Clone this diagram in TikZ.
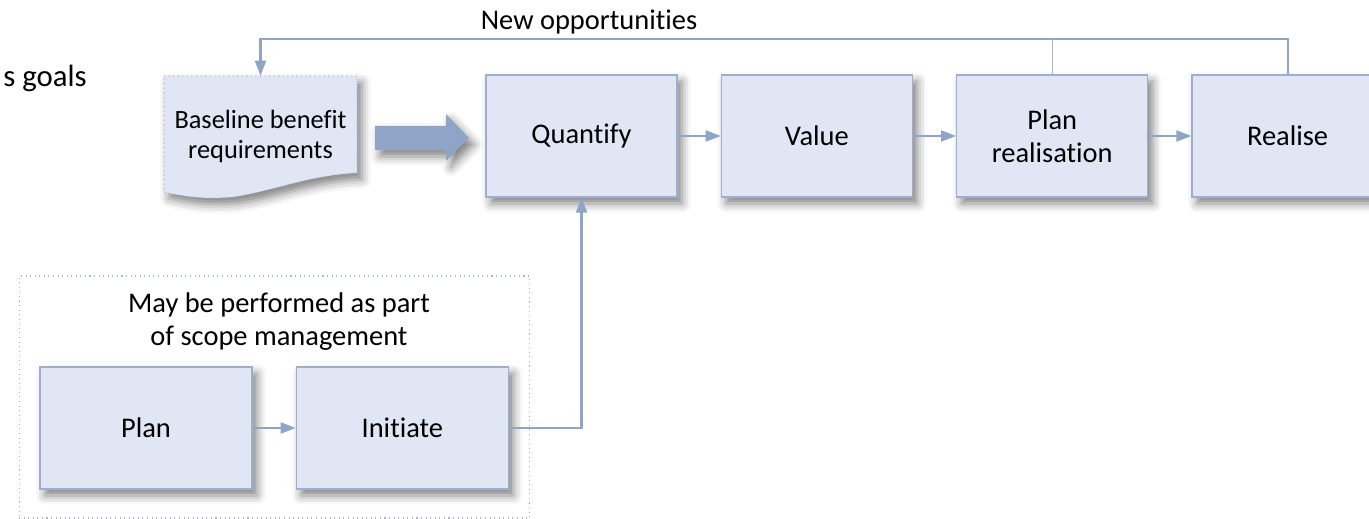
\documentclass[tikz,border=0pt]{standalone}
\usepackage{fontspec}
\setmainfont{Carlito}[Ligatures=NoCommon]
\usetikzlibrary{positioning,arrows.meta,shadows.blur}
\definecolor{boxfill}{RGB}{224,230,243}
\definecolor{boxline}{RGB}{158,174,206}
\definecolor{flowblue}{RGB}{143,164,198}
\definecolor{dotline}{RGB}{168,180,205}
\newcommand{\boxfont}{\fontsize{16.2}{18.7}\selectfont}
\newcommand{\basefont}{\fontsize{15}{17.6}\selectfont}
\tikzset{
  softshadow/.style={blur shadow={shadow xshift=0.1cm, shadow yshift=-0.13cm, shadow blur radius=0.18cm, shadow opacity=50}},
  stage/.style={draw=boxline, line width=0.8pt, fill=boxfill, minimum width=3.82cm, minimum height=2.44cm, align=center, font=\boxfont, softshadow},
  flow/.style={flowblue, line width=1.2pt, -{Triangle[length=0.3cm,width=0.22cm]}},
}

\begin{document}
\begin{tikzpicture}[x=0.02cm,y=-0.02cm]
  \useasboundingbox (0,0) rectangle (1369,519);

  % scope management group
  \node[draw=dotline, dotted, line width=0.6pt, minimum width=10.22cm, minimum height=4.84cm] (scope) at (274.5,397) {};
  \node[font=\boxfont, align=center] (note) at (279,321.5) {May be performed as part\\of scope management};

  % baseline document
  \filldraw[fill=boxfill, draw=dotline, dotted, line width=0.6pt, softshadow]
    (164,76) -- (357,76) -- (357,173) .. controls (310,175) and (270,192) .. (233,197)
    .. controls (210,199) and (190,198) .. (164,192) -- cycle;
  \node[minimum width=3.86cm, minimum height=2.42cm, align=center, font=\basefont] (base) at (260.5,136.5) {Baseline benefit\\requirements};

  % fat arrow
  \fill[flowblue, softshadow] (375,126) -- (446,126) -- (446,114) -- (469,138) -- (446,161) -- (446,150) -- (375,150) -- cycle;

  % main stages
  \node[stage] (quant) at (581.5,136) {Quantify};
  \node[stage, right=0.86cm of quant] (value) {Value};
  \node[stage, right=0.86cm of value] (planreal) {Plan\\realisation};
  \node[stage, right=0.86cm of planreal] (realise) {Realise};

  % lower stages
  \node[stage, minimum width=4.24cm] (plan) at (146,428) {Plan};
  \node[stage, minimum width=4.24cm, right=0.86cm of plan] (init) {Initiate};

  \node[font=\fontsize{17.5}{20}\selectfont, anchor=east, inner sep=0pt] (goals) at (87,78) {s goals};
  \node[font=\boxfont] (newopp) at (589,22) {New opportunities};

  % connectors
  \draw[flow] (quant) -- (value);
  \draw[flow] (value) -- (planreal);
  \draw[flow] (planreal) -- (realise);
  \draw[flow] (plan) -- (init);
  \draw[flow] (init.east) -| (quant.south);
  \coordinate (fb) at (1289.5,39);
  \draw[flow] (realise.north) -- (realise.north |- fb) -| (base.north);
  \draw[dotline, line width=0.6pt] (planreal.north) -- (planreal.north |- fb);
\end{tikzpicture}
\end{document}
